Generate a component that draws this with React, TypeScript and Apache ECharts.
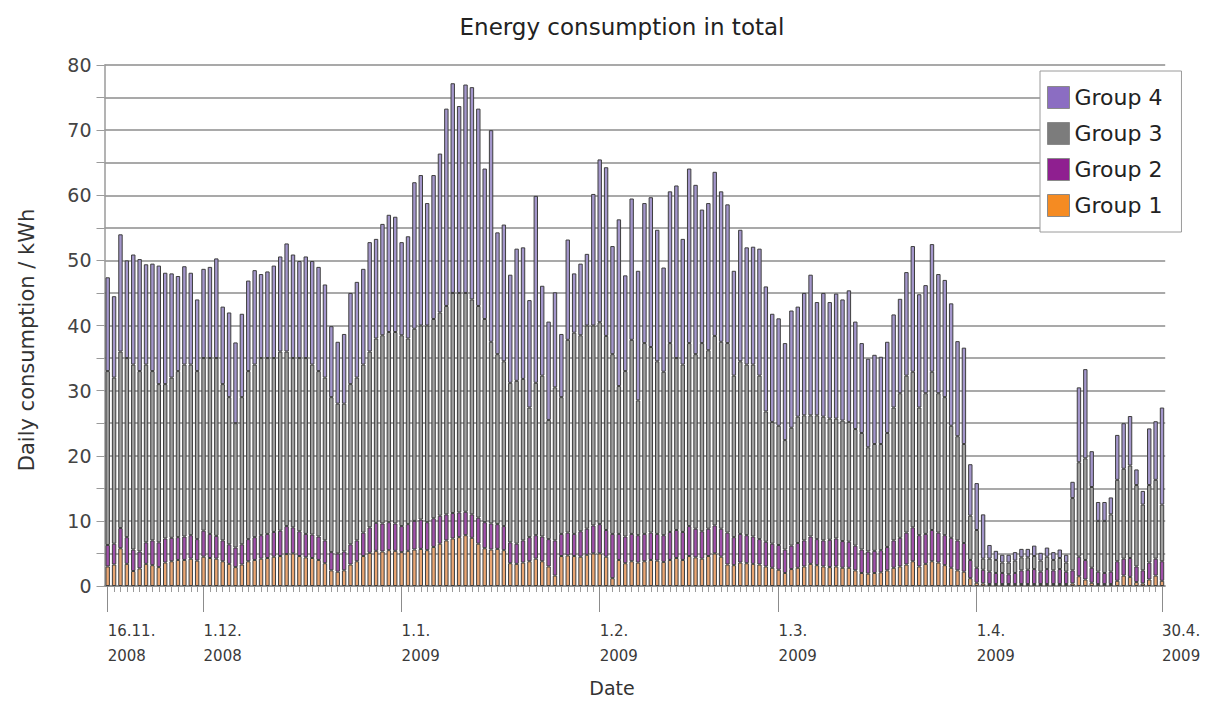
import React, { useEffect, useRef } from "react";
import * as echarts from "echarts";

const FONT = "'DejaVu Sans', 'Liberation Sans', Arial, sans-serif";

// 16.11.2008 .. 30.4.2009, one category per day
const categories: string[] = (() => {
  const out: string[] = [];
  const d = new Date(Date.UTC(2008, 10, 16));
  for (let i = 0; i < 166; i++) {
    out.push(`${d.getUTCDate()}.${d.getUTCMonth() + 1}.${d.getUTCFullYear()}`);
    d.setUTCDate(d.getUTCDate() + 1);
  }
  return out;
})();

const tickDates = ["16.11.2008", "1.12.2008", "1.1.2009", "1.2.2009", "1.3.2009", "1.4.2009", "30.4.2009"];

const seriesNames = ["Group 1", "Group 2", "Group 3", "Group 4"];

const group1 = [
  3.0, 3.3, 5.8, 3.4, 2.3, 2.7, 3.4, 3.2, 2.9, 3.6,
  3.8, 4.0, 4.0, 4.2, 3.9, 4.5, 4.3, 4.2, 3.8, 3.4,
  2.9, 3.3, 3.8, 4.0, 4.2, 4.3, 4.5, 4.6, 4.9, 5.0,
  4.6, 4.4, 4.3, 4.0, 3.5, 2.4, 2.2, 2.4, 3.3, 3.8,
  4.6, 5.1, 5.4, 5.3, 5.5, 5.4, 5.2, 5.4, 5.6, 5.7,
  5.5, 6.0, 6.5, 7.0, 7.3, 7.5, 7.8, 7.4, 6.5, 5.8,
  5.6, 5.7, 5.5, 3.5, 3.4, 3.6, 3.8, 4.2, 3.8, 3.0,
  1.6, 4.6, 4.7, 4.6, 4.5, 4.8, 5.0, 5.0, 4.5, 1.2,
  4.0, 3.5, 3.8, 3.6, 3.8, 4.0, 3.9, 3.7, 4.0, 4.3,
  4.0, 4.6, 4.4, 4.2, 4.6, 5.0, 4.5, 3.3, 3.2, 3.6,
  3.5, 3.4, 3.3, 3.0, 2.8, 2.5, 2.0, 2.6, 2.8, 3.0,
  3.4, 3.2, 3.0, 2.9, 3.0, 2.8, 2.8, 2.4, 2.0, 1.9,
  2.0, 2.1, 2.4, 2.8, 3.0, 3.3, 3.8, 3.0, 3.4, 3.8,
  3.6, 3.2, 2.8, 2.4, 2.2, 1.2, 0.5, 0.4, 0.3, 0.3,
  0.3, 0.3, 0.3, 0.3, 0.3, 0.3, 0.3, 0.3, 0.3, 0.3,
  0.3, 0.4, 1.5, 1.0, 0.5, 0.3, 0.3, 0.3, 0.8, 1.6,
  1.4, 0.6, 0.4, 1.0, 1.6, 0.8,
];

const group2 = [
  3.3, 3.2, 3.1, 4.1, 3.3, 2.6, 3.3, 3.8, 3.8, 3.7,
  3.6, 3.5, 3.6, 3.6, 3.3, 4.0, 3.7, 3.5, 3.2, 3.0,
  3.0, 3.1, 3.4, 3.5, 3.6, 3.7, 3.8, 3.9, 4.3, 4.0,
  3.8, 3.6, 3.6, 3.6, 3.5, 2.8, 2.8, 2.9, 3.1, 3.2,
  3.6, 3.9, 4.3, 4.3, 4.3, 4.2, 4.0, 4.1, 4.4, 4.5,
  4.3, 4.4, 4.3, 4.0, 3.9, 3.8, 3.6, 3.6, 4.0, 4.0,
  4.0, 3.8, 3.7, 3.2, 3.1, 3.4, 3.7, 3.6, 3.8, 4.2,
  5.4, 3.4, 3.5, 3.4, 3.9, 4.0, 4.3, 4.5, 4.1, 6.8,
  4.0, 4.1, 4.2, 4.2, 4.2, 4.2, 4.1, 4.1, 4.3, 4.3,
  4.3, 4.6, 4.4, 4.2, 4.2, 4.3, 4.3, 4.9, 4.3, 4.4,
  4.3, 4.2, 3.9, 3.8, 3.7, 3.8, 3.6, 3.6, 3.8, 4.0,
  4.2, 4.0, 4.0, 4.2, 4.3, 4.1, 4.0, 3.8, 3.6, 3.4,
  3.4, 3.4, 3.6, 4.2, 4.4, 4.9, 5.2, 4.8, 4.6, 4.8,
  4.6, 4.6, 4.6, 4.6, 4.4, 2.8, 2.3, 2.1, 1.9, 1.7,
  1.7, 1.5, 1.7, 2.1, 2.2, 2.3, 1.9, 2.3, 2.1, 2.3,
  1.9, 2.0, 3.0, 3.0, 2.3, 1.9, 1.7, 1.9, 3.0, 2.6,
  2.9, 2.4, 2.0, 2.6, 2.6, 3.0,
];

const group3 = [
  26.7, 25.5, 27.1, 27.5, 28.4, 27.7, 27.3, 26.0, 24.3, 23.7,
  24.6, 25.5, 26.4, 26.2, 25.8, 26.5, 27.0, 27.3, 24.0, 22.6,
  19.1, 22.6, 25.8, 26.5, 27.2, 27.0, 26.7, 27.5, 26.8, 26.0,
  26.6, 27.0, 26.1, 25.4, 25.0, 23.8, 23.0, 22.7, 24.6, 25.0,
  25.8, 27.0, 28.3, 28.9, 29.2, 29.4, 29.3, 28.5, 29.5, 29.8,
  30.2, 30.6, 31.2, 32.0, 33.8, 33.7, 33.6, 33.0, 32.5, 31.2,
  27.9, 26.1, 25.3, 24.5, 25.0, 24.8, 19.9, 23.4, 24.7, 18.3,
  23.5, 21.0, 29.6, 30.9, 30.1, 31.2, 30.7, 31.0, 29.8, 27.6,
  22.7, 25.4, 29.8, 20.7, 29.3, 28.5, 26.5, 25.1, 29.0, 26.4,
  25.7, 28.1, 26.8, 28.9, 27.4, 29.1, 28.7, 29.1, 24.8, 26.5,
  26.2, 26.4, 25.1, 20.0, 18.7, 18.3, 16.8, 18.1, 19.4, 19.2,
  18.6, 19.0, 19.0, 18.6, 18.4, 18.5, 18.4, 17.9, 17.9, 16.0,
  16.4, 16.3, 17.5, 20.4, 22.2, 24.1, 23.9, 19.6, 21.6, 24.3,
  21.4, 21.2, 17.2, 16.0, 15.2, 6.8, 5.8, 1.7, 2.0, 2.0,
  1.6, 1.8, 1.9, 2.0, 1.9, 2.0, 1.7, 1.9, 1.6, 1.7,
  1.4, 11.1, 14.5, 15.6, 12.4, 7.8, 8.0, 8.8, 12.5, 13.8,
  14.2, 12.5, 10.1, 11.9, 12.1, 8.7,
];

const group4 = [
  14.4, 12.5, 18.0, 15.0, 16.9, 17.2, 15.4, 16.5, 18.2, 17.1,
  16.0, 14.6, 15.1, 14.1, 11.0, 13.7, 14.0, 15.3, 11.9, 13.0,
  12.4, 12.8, 13.9, 14.5, 12.9, 13.3, 14.2, 14.6, 16.6, 15.9,
  14.9, 15.6, 15.9, 16.0, 14.3, 10.9, 9.5, 10.7, 14.0, 14.7,
  14.7, 16.8, 15.3, 17.1, 18.0, 17.7, 14.3, 15.7, 22.5, 23.1,
  18.8, 22.1, 24.4, 30.3, 32.2, 28.7, 32.0, 32.6, 30.3, 23.1,
  32.5, 18.7, 21.0, 16.6, 20.3, 20.2, 16.5, 28.7, 13.8, 15.1,
  14.6, 9.7, 15.4, 9.1, 11.0, 11.0, 20.2, 25.0, 25.9, 16.6,
  25.6, 14.7, 21.7, 19.9, 21.5, 23.0, 20.2, 16.0, 23.3, 26.5,
  19.3, 26.8, 26.0, 20.5, 22.6, 25.2, 23.1, 21.3, 16.1, 20.2,
  18.0, 18.1, 19.5, 19.2, 16.6, 16.5, 14.9, 18.0, 16.9, 18.8,
  21.6, 17.4, 19.0, 17.9, 19.2, 18.6, 20.2, 16.5, 13.8, 13.6,
  13.7, 13.4, 14.0, 14.3, 14.5, 15.9, 19.3, 17.4, 16.6, 19.6,
  18.3, 18.0, 18.8, 14.6, 14.8, 7.9, 7.2, 6.8, 2.1, 1.4,
  1.2, 1.2, 1.3, 1.3, 1.3, 1.6, 1.2, 1.4, 1.2, 1.3,
  1.2, 2.5, 11.5, 13.7, 5.5, 2.9, 2.9, 2.6, 6.9, 7.0,
  7.6, 2.4, 2.1, 8.7, 9.0, 14.9,
];

const groupValues = [group1, group2, group3, group4];
const barFill = ["#e9a572", "#a050aa", "#9f9f9f", "#a396cb"];
const legendFill = ["#f58b22", "#8f1f90", "#7c7c7c", "#8b6dc2"];

export default function App() {
  const ref = useRef<HTMLDivElement>(null);

  useEffect(() => {
    if (!ref.current) return;
    const chart = echarts.init(ref.current, undefined, { renderer: "svg" });

    const isTick = (_i: number, v: string) => tickDates.includes(v);

    chart.setOption({
      animation: false,
      backgroundColor: "#ffffff",
      title: {
        text: "Energy consumption in total",
        left: 617,
        top: 10,
        textAlign: "center",
        textStyle: { fontFamily: FONT, fontSize: 23, fontWeight: "normal", color: "#222" },
      },
      legend: {
        orient: "vertical",
        left: 1040,
        top: 71,
        itemWidth: 22,
        itemHeight: 22,
        itemGap: 13,
        padding: [15, 19, 15, 7],
        backgroundColor: "#ffffff",
        borderColor: "#9a9a9a",
        borderWidth: 1,
        icon: "rect",
        textStyle: { fontFamily: FONT, fontSize: 22, color: "#222" },
        data: [3, 2, 1, 0].map((k) => ({
          name: seriesNames[k],
          itemStyle: { color: legendFill[k], borderColor: "#8a8a8a", borderWidth: 1 },
        })),
      },
      grid: { left: 104.5, top: 65, width: 1060.7, height: 521 },
      xAxis: [
        {
          type: "category",
          data: categories,
          position: "bottom",
          axisLine: { show: true, lineStyle: { color: "#8c8c8c", width: 1.5 } },
          axisTick: { show: true, interval: 0, alignWithLabel: true, length: 6, lineStyle: { color: "#9a9a9a" } },
          axisLabel: { show: false },
          splitLine: { show: false },
        },
        {
          type: "category",
          data: categories,
          position: "bottom",
          axisLine: { show: false },
          axisTick: { show: true, interval: isTick, alignWithLabel: true, length: 26, lineStyle: { color: "#8c8c8c" } },
          axisLabel: {
            show: true,
            interval: isTick,
            align: "left",
            margin: 32,
            lineHeight: 25,
            fontFamily: FONT,
            fontSize: 15,
            color: "#3a3a3a",
            formatter: (v: string) => {
              const p = v.split(".");
              return `${p[0]}.${p[1]}.\n${p[2]}`;
            },
          },
          splitLine: { show: false },
        },
      ],
      yAxis: {
        type: "value",
        min: 0,
        max: 80,
        interval: 5,
        axisLine: { show: true, lineStyle: { color: "#9a9a9a", width: 1.5 } },
        axisTick: { show: true, length: 8, lineStyle: { color: "#9a9a9a" } },
        axisLabel: {
          fontFamily: FONT,
          fontSize: 19,
          color: "#444",
          margin: 13,
          formatter: (v: number) => (v % 10 === 0 ? String(v) : ""),
        },
        splitLine: { show: true, lineStyle: { color: "#a9a9a9", width: 2 } },
      },
      graphic: [
        {
          type: "text",
          x: 27,
          y: 340,
          rotation: Math.PI / 2,
          style: {
            text: "Daily consumption / kWh",
            fontFamily: FONT,
            fontSize: 21,
            fill: "#333",
            align: "center",
            verticalAlign: "middle",
          },
        },
        {
          type: "text",
          x: 612,
          y: 688,
          style: {
            text: "Date",
            fontFamily: FONT,
            fontSize: 19,
            fill: "#333",
            align: "center",
            verticalAlign: "middle",
          },
        },
      ],
      series: groupValues.map((vals, k) => ({
        name: seriesNames[k],
        type: "bar",
        stack: "total",
        xAxisIndex: 0,
        barWidth: 4.4,
        itemStyle: { color: barFill[k], borderColor: "#3e3e3e", borderWidth: 1 },
        emphasis: { disabled: true },
        data: vals,
      })),
    });

    return () => chart.dispose();
  }, []);

  return (
    <div
      ref={ref}
      style={{ position: "fixed", left: 0, top: 0, width: 1216, height: 701 }}
    />
  );
}
